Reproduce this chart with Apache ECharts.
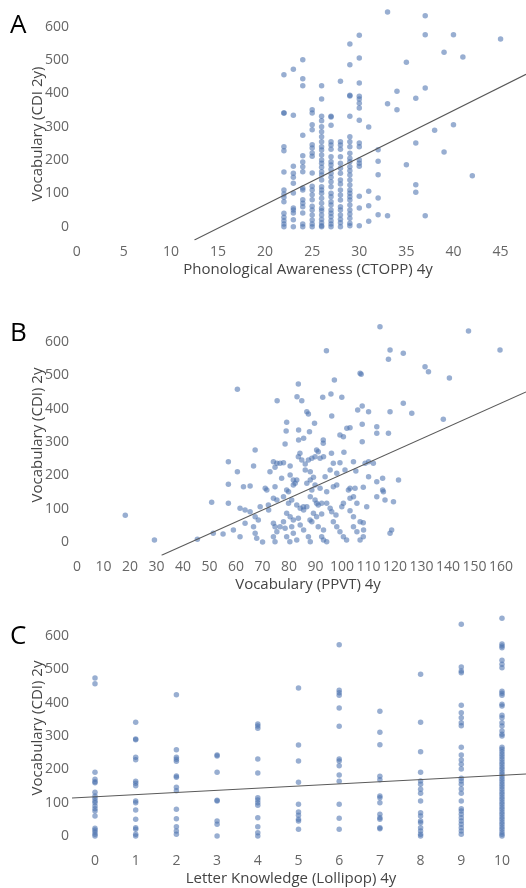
<!DOCTYPE html>
<html>
<head>
<meta charset="utf-8">
<script src="https://cdn.jsdelivr.net/npm/echarts@6/dist/echarts.min.js"></script>
<style>
html,body{margin:0;padding:0;background:#fff;}
#chart{width:526px;height:888px;}
</style>
</head>
<body>
<div id="chart"></div>
<script>
// ---------- Panel A: Phonological Awareness (CTOPP) 4y vs CDI 2y ----------
const ctoppScores = [22, 23, 24, 25, 26, 27, 28, 29, 30, 31, 32, 33, 34, 35, 36, 37, 38, 39, 40, 41, 42, 45];
const cdiByCtopp = [
  [456, 341, 341, 240, 228, 164, 110, 98, 88, 75, 40, 28, 18, 8, 0],
  [472, 334, 181, 160, 148, 130, 101, 56, 50, 41, 21, 0],
  [501, 444, 423, 274, 213, 194, 180, 165, 116, 110, 81, 70, 60, 41, 8, 0],
  [351, 341, 306, 291, 246, 236, 221, 211, 161, 121, 110, 96, 81, 61, 50, 35, 20, 8, 0],
  [423, 383, 331, 318, 300, 285, 270, 255, 240, 230, 215, 200, 190, 178, 165, 155, 140, 120, 110, 100, 85, 70, 55, 48, 35, 22, 12, 3, 0],
  [331, 329, 304, 255, 245, 232, 210, 195, 185, 172, 160, 148, 135, 120, 100, 90, 75, 65, 50, 40, 30, 18, 8, 0],
  [436, 255, 245, 232, 210, 190, 175, 160, 140, 128, 110, 95, 80, 60, 50, 35, 22, 12, 0],
  [548, 486, 394, 392, 331, 270, 255, 240, 220, 205, 195, 180, 168, 155, 140, 125, 110, 100, 90, 80, 65, 50, 38, 25, 10, 3],
  [574, 506, 431, 391, 383, 370, 356, 319, 251, 240, 200, 190, 181, 91, 56, 3],
  [299, 106, 63, 16],
  [231, 196, 156, 86, 36],
  [644, 369, 33],
  [406, 351],
  [493, 186],
  [385, 251, 126, 103],
  [633, 576, 416, 33],
  [289],
  [523, 224],
  [576, 306],
  [509],
  [153],
  [563]
];
const fitA = [[12.5, -40], [47.7, 457]];
const ticksA = [0, 5, 10, 15, 20, 25, 30, 35, 40, 45];

// ---------- Panel B: Vocabulary (PPVT) 4y vs CDI 2y ----------
const ppvtCdiPairs = [
  [18.2, 80], [29.2, 6], [45.4, 8], [60.5, 458], [83.5, 474], [94.1, 574], [97.1, 486], [106.8, 506], [107.2, 503],
  [110, 391], [110, 196], [111.8, 236], [113.1, 181], [113.1, 136], [113.1, 346], [113.1, 326], [114.3, 646],
  [115.3, 191], [115.3, 156], [115.6, 151], [116.2, 126], [117.5, 548], [117.5, 326], [118.1, 576], [118.1, 391],
  [118.7, 36], [118.1, 26], [119.4, 121], [121.3, 186], [123.1, 566], [123.1, 416], [126.3, 386], [131.3, 526],
  [132.6, 511], [138.2, 368], [140.5, 492], [147.7, 633], [159.6, 576],
  [75.5, 424], [84.8, 424], [92.7, 434], [95.8, 444], [99.9, 434], [86.7, 391], [87.3, 384], [96.1, 378],
  [105.9, 396], [107.6, 408], [107.6, 353], [79.1, 359], [89.6, 356], [78.9, 333], [83.6, 336], [87.7, 331],
  [83.6, 306], [85.5, 311], [92.9, 306], [92.9, 296], [78.5, 294], [99.2, 321], [100.5, 316], [103, 343],
  [107.6, 301], [67.2, 276], [84.1, 266], [90.4, 276], [91, 271], [96, 266], [100.7, 269], [57.1, 241],
  [74.1, 241], [75.4, 236], [74.7, 224], [77.9, 238], [80.4, 228], [83.5, 256], [84.8, 246], [86.1, 234],
  [87.3, 246], [88.6, 251], [89.8, 256], [91.7, 251], [93, 256], [96.7, 236], [99.2, 238], [104.3, 241],
  [108.7, 236], [110, 241], [72.8, 211], [77.2, 191], [80.4, 201], [81.6, 186], [86.1, 216], [88, 211],
  [89.2, 194], [93.6, 196], [98, 206], [101.1, 216], [105.2, 213], [57.1, 173], [62.8, 166], [65.3, 168],
  [71, 161], [71.6, 156], [74.7, 166], [79.1, 156], [79.8, 151], [81.6, 171], [82.9, 186], [86.7, 176],
  [88, 186], [89.8, 171], [88.6, 156], [91.7, 161], [94.2, 151], [96.7, 166], [98, 171], [103, 161],
  [104.9, 161], [108, 164], [50.8, 119], [57.1, 116], [61.5, 101], [63.4, 96], [65.3, 91], [69.1, 106],
  [72.2, 111], [67.2, 76], [68.4, 66], [74.1, 131], [75.4, 126], [77.9, 136], [79.8, 116], [81, 126],
  [82.9, 111], [84.2, 101], [85.5, 96], [86.7, 106], [79.1, 86], [80.4, 76], [81.6, 66], [83.5, 71],
  [88, 136], [89.8, 126], [91, 111], [92.3, 116], [89.2, 86], [90.4, 76], [92.3, 84], [94.2, 116],
  [95.5, 101], [96.1, 91], [99.9, 106], [100.5, 116], [103, 131], [104.3, 136], [103, 94], [105.6, 116],
  [109.3, 106], [51.4, 26], [55.1, 24], [59, 36], [61.5, 16], [63.4, 56], [66.6, 46], [67.2, 26],
  [67.8, 11], [70, 0], [74.1, 56], [74.7, 46], [75.4, 31], [74.1, 16], [74.7, 1], [77.9, 61], [78.5, 41],
  [79.1, 16], [81, 46], [81.6, 26], [82.9, 6], [84.2, 51], [85.5, 36], [87.3, 16], [88, 1], [88.6, 61],
  [91, 46], [93, 36], [92.3, 16], [94.2, 1], [96.7, 61], [98, 46], [99.2, 31], [100.5, 16], [101.7, 6],
  [104.3, 46], [105.6, 31], [108, 16], [108, 58], [60.5, 211], [66.6, 228], [76.6, 236], [83, 436],
  [85.4, 106], [87.9, 66], [90.4, 116], [76.6, 46], [80.3, 1], [72.3, 96], [82.3, 176], [95.5, 216],
  [97.7, 81], [101.8, 341], [106.8, 61], [106.8, 6], [108.1, 36], [102.4, 156], [104.3, 76], [93, 6]
];
const fitB = [[31.9, -40], [169.4, 450]];
const ticksB = [0, 10, 20, 30, 40, 50, 60, 70, 80, 90, 100, 110, 120, 130, 140, 150, 160];

// ---------- Panel C: Letter Knowledge (Lollipop) 4y vs CDI 2y ----------
const letterScores = [0, 1, 2, 3, 4, 5, 6, 7, 8, 9, 10];
const cdiByLetter = [
  [474, 457, 191, 170, 163, 160, 131, 120, 113, 105, 100, 90, 82, 75, 60, 23, 18, 12, 5, 0],
  [341, 289, 291, 236, 229, 164, 158, 151, 105, 100, 78, 50, 25, 20, 5, 0],
  [424, 259, 236, 230, 224, 176, 180, 146, 136, 80, 52, 28, 15, 5],
  [243, 240, 191, 107, 105, 45, 35, 0],
  [336, 330, 323, 231, 189, 115, 108, 100, 92, 55, 28, 10, 0],
  [444, 273, 225, 161, 95, 72, 62, 50, 45, 20],
  [574, 437, 430, 422, 384, 329, 231, 225, 211, 183, 164, 95, 53, 20],
  [374, 311, 274, 179, 169, 120, 115, 100, 65, 55, 50, 25, 22],
  [485, 341, 253, 191, 165, 155, 140, 128, 105, 70, 60, 45, 40, 25, 15, 5, 0],
  [635, 507, 495, 490, 392, 370, 355, 340, 331, 266, 243, 228, 215, 201, 173, 165, 155, 141, 128, 105, 82, 75, 65, 55, 45, 35, 25, 15, 5],
  [653, 576, 570, 565, 527, 515, 505, 434, 428, 422, 395, 390, 362, 355, 340, 330, 315, 305, 300, 266, 260, 253, 245, 238, 230, 222, 215, 207, 200, 192, 185, 178, 170, 163, 155, 148, 140, 132, 125, 117, 110, 102, 95, 87, 80, 72, 65, 57, 50, 42, 35, 27, 20, 12, 5, 0]
];
const fitC = [[-0.565, 114], [10.59, 186]];

const cdiTicks = [0, 100, 200, 300, 400, 500, 600];
const panelLetters = ['A', 'B', 'C'];
const xTitles = ['Phonological Awareness (CTOPP) 4y', 'Vocabulary (PPVT) 4y', 'Letter Knowledge (Lollipop) 4y'];
const yTitles = ['Vocabulary (CDI 2y)', 'Vocabulary (CDI) 2y', 'Vocabulary (CDI) 2y'];

function columnsToPairs(xs, cols) {
  const out = [];
  xs.forEach((x, i) => cols[i].forEach(y => out.push([x, y])));
  return out;
}

const FONT = 'Open Sans';
const dotColor = 'rgba(76,114,176,0.72)';
const tickColor = '#666';
const titleColor = '#444';

const panels = [
  { top: 0, xMin: -0.5, xMax: 47.7, xTicks: ticksA, xPad: [0, 0, 0, 18], yTitleY: 134, letterTop: 13,
    points: columnsToPairs(ctoppScores, cdiByCtopp), fit: fitA },
  { top: 315.3, xMin: -1.9, xMax: 169.4, xTicks: ticksB, xPad: [0, 0, 0, 18], yTitleY: 435, letterTop: 321,
    points: ppvtCdiPairs, fit: fitB },
  { top: 609.3, xMin: -0.565, xMax: 10.59, xTicks: letterScores, xPad: [0, 16, 0, 0], yTitleY: 728, letterTop: 624,
    points: columnsToPairs(letterScores, cdiByLetter), fit: fitC }
];

const grid = [], xAxis = [], yAxis = [], series = [], graphic = [];
panels.forEach((p, i) => {
  grid.push({ left: 72, width: 454, top: p.top, height: 240 });
  xAxis.push({
    type: 'value', gridIndex: i, min: p.xMin, max: p.xMax,
    axisLine: { show: false }, axisTick: { show: false }, splitLine: { show: false },
    axisLabel: { customValues: p.xTicks, margin: 5, color: tickColor, fontFamily: FONT, fontSize: 14 },
    name: xTitles[i], nameLocation: 'middle', nameGap: 22,
    nameTextStyle: { color: titleColor, fontFamily: FONT, fontSize: 15, padding: p.xPad }
  });
  yAxis.push({
    type: 'value', gridIndex: i, min: -40, max: 680,
    axisLine: { show: false }, axisTick: { show: false }, splitLine: { show: false },
    axisLabel: { customValues: cdiTicks, margin: 3, color: tickColor, fontFamily: FONT, fontSize: 14 }
  });
  series.push({
    type: 'scatter', xAxisIndex: i, yAxisIndex: i, data: p.points,
    symbolSize: 5.5, itemStyle: { color: dotColor }, silent: true, z: 2
  });
  series.push({
    type: 'line', xAxisIndex: i, yAxisIndex: i, data: p.fit, symbol: 'none',
    lineStyle: { color: '#5a5a5a', width: 1.1 }, silent: true, z: 3, clip: true
  });
  graphic.push({
    type: 'text', x: 38, y: p.yTitleY, rotation: Math.PI / 2,
    style: { text: yTitles[i], fontFamily: FONT, fontSize: 15, fill: titleColor, align: 'center', verticalAlign: 'middle' }
  });
  graphic.push({
    type: 'text', left: 10, top: p.letterTop,
    style: { text: panelLetters[i], fontFamily: FONT, fontSize: 26, fill: '#000' }
  });
});

const chart = echarts.init(document.getElementById('chart'), null, { renderer: 'canvas' });
chart.setOption({
  animation: false,
  backgroundColor: '#fff',
  grid, xAxis, yAxis, series, graphic
});
</script>
</body>
</html>
